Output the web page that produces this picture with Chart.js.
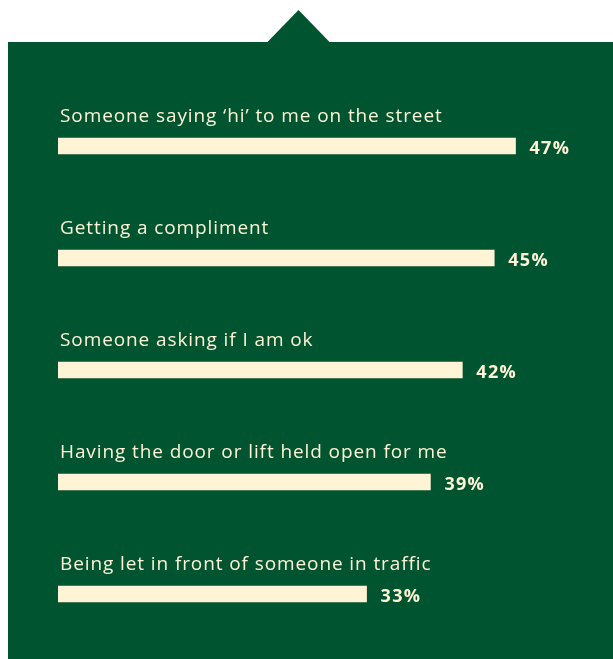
<!DOCTYPE html>
<html>
<head>
<meta charset="utf-8">
<script src="https://cdn.jsdelivr.net/npm/chart.js@4"></script>
<style>
  html, body { margin: 0; padding: 0; background: #ffffff; }
  #wrap { width: 613px; height: 659px; }
</style>
</head>
<body>
<div id="wrap"><canvas id="kindness" width="613" height="659"></canvas></div>
<script>
// data
const categories = [
    'Someone saying \u2018hi\u2019 to me on the street',
    'Getting a compliment',
    'Someone asking if I am ok',
    'Having the door or lift held open for me',
    'Being let in front of someone in traffic'
];
const percentValues = [47, 45, 42, 39, 33];

const green = '#00542f';
const cream = '#fff4d6';
const fontName = '"Open Sans", Lato, sans-serif';

// green panel with the little pointer on top
const panelPlugin = {
    id: 'panel',
    beforeDraw(chart) {
        const c = chart.ctx;
        c.save();
        c.fillStyle = green;
        c.fillRect(8, 42, chart.width - 8, chart.height - 42);
        c.beginPath();
        c.moveTo(267, 42.5);
        c.lineTo(298.5, 10);
        c.lineTo(330, 42.5);
        c.closePath();
        c.fill();
        c.restore();
    }
};

// category text above the bars, value text after the bars
const labelPlugin = {
    id: 'barLabels',
    afterDatasetsDraw(chart) {
        const c = chart.ctx;
        const ys = chart.scales.y;
        const meta = chart.getDatasetMeta(0);
        c.save();
        c.textBaseline = 'alphabetic';
        c.textAlign = 'left';
        categories.forEach((cat, i) => {
            const yMid = ys.getPixelForValue(i);
            c.fillStyle = cream;
            c.font = '19px ' + fontName;
            c.letterSpacing = '0.9px';
            c.fillText(cat, 60, yMid - 24);

            const bar = meta.data[i];
            c.font = 'bold 18px ' + fontName;
            c.letterSpacing = '1.3px';
            c.fillText(percentValues[i] + '%', bar.x + 14, yMid + 8);
        });
        c.restore();
    }
};

const ctx = document.getElementById('kindness');
new Chart(ctx, {
    type: 'bar',
    data: {
        labels: categories,
        datasets: [{
            data: percentValues,
            backgroundColor: cream,
            borderWidth: 0,
            barThickness: 16
        }]
    },
    options: {
        indexAxis: 'y',
        responsive: false,
        animation: false,
        layout: {
            padding: { left: 58, right: 23, top: 90, bottom: 9 }
        },
        scales: {
            x: { display: false, min: 4, max: 54 },
            y: { display: false }
        },
        plugins: {
            legend: { display: false },
            tooltip: { enabled: false }
        }
    },
    plugins: [panelPlugin, labelPlugin]
});
</script>
</body>
</html>
